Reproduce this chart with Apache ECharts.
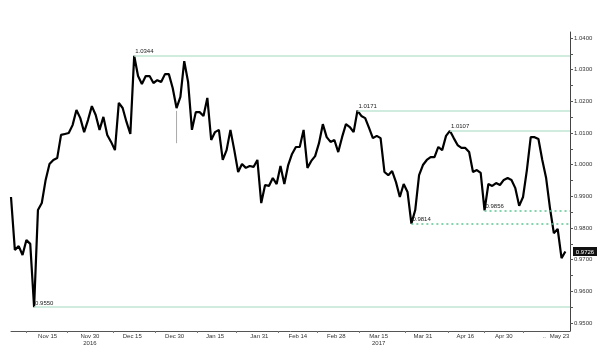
<!DOCTYPE html>
<html lang="en">
  <head>
    <meta charset="UTF-8" />
    <title>USD/CHF</title>
    <script src="https://cdn.jsdelivr.net/npm/echarts@6.0.0/dist/echarts.min.js"></script>
    <style>
      html,
      body {
        margin: 0;
        background: #fff;
      }
      #chart {
        width: 600px;
        height: 354px;
      }
    </style>
  </head>
  <body>
    <div id="chart"></div>
    <script>
      // one value per trading day, Nov 1 2016 -> May 24 2017
      const prices = [
        0.9898, 0.9731, 0.9743, 0.9715, 0.9762, 0.975, 0.955, 0.9857, 0.9879, 0.9952,
        1.0002, 1.0015, 1.0021, 1.0094, 1.0097, 1.01, 1.0125, 1.0173, 1.0147, 1.0103,
        1.0141, 1.0185, 1.0157, 1.011, 1.0151, 1.0094, 1.0072, 1.0046, 1.0195, 1.0179,
        1.0135, 1.0097, 1.0344, 1.028, 1.0255, 1.028, 1.028, 1.0258, 1.0267, 1.0261,
        1.0286, 1.0286, 1.0242, 1.0179, 1.0214, 1.0327, 1.0261, 1.011, 1.0166, 1.0166,
        1.0154, 1.0211, 1.0078, 1.0103, 1.011, 1.0015, 1.0046, 1.011, 1.0046, 0.9977,
        1.0002, 0.999, 0.9996, 0.9993, 1.0015, 0.9879, 0.9936, 0.9933, 0.9958, 0.9939,
        0.9996, 0.9939, 0.9999, 1.0034, 1.0056, 1.0056, 1.011, 0.999, 1.0012, 1.0027,
        1.0068, 1.0128, 1.0087, 1.0072, 1.0078, 1.004, 1.0087, 1.0128, 1.0119, 1.0103,
        1.0171, 1.0154, 1.0147, 1.0116, 1.0084, 1.0091, 1.0084, 0.9977, 0.9967, 0.998,
        0.9945, 0.9898, 0.9939, 0.9914, 0.9814, 0.9857, 0.9967, 0.9999, 1.0015, 1.0024,
        1.0024, 1.0056, 1.0046, 1.0091, 1.0107, 1.0084, 1.0062, 1.0053, 1.0053, 1.004,
        0.9977, 0.9983, 0.9974, 0.9856, 0.9939, 0.9933, 0.9942, 0.9936, 0.9952, 0.9958,
        0.9952, 0.9926, 0.987, 0.9898, 0.9983, 1.0087, 1.0087, 1.0081, 1.0015, 0.9958,
        0.9863, 0.9784, 0.9797, 0.9705, 0.9726,
      ];

      // thin grey wick on Dec 30
      const wickDay = 43;
      const wickRange = [1.017, 1.0068];

      // marked highs / lows: level, day it was set, dotted or not
      const levels = [1.0344, 1.0171, 1.0107, 0.9856, 0.9814, 0.955];
      const levelDays = [32, 90, 114, 123, 104, 6];
      const levelDotted = [false, false, false, true, true, false];

      const dateLabels = [
        "Nov 15", "Nov 30\n2016", "Dec 15", "Dec 30", "Jan 15", "Jan 31", "Feb 14",
        "Feb 28", "Mar 15\n2017", "Mar 31", "Apr 16", "Apr 30", "..", "May 23",
      ];
      const dateLabelDays = [9.5, 20.5, 31.5, 42.5, 53, 64.5, 74.5, 84.5, 95.5, 107, 118, 128, 138.5, 142.5];
      const dateTickDays = [4, 14.5, 26.5, 37.5, 48.5, 58.5, 69.5, 79.5, 90.5, 102.5, 113.5, 123, 133];

      const priceTicks = [0.95, 0.96, 0.97, 0.98, 0.99, 1.0, 1.01, 1.02, 1.03, 1.04];
      const priceMinorTicks = [
        0.95, 0.955, 0.96, 0.965, 0.97, 0.975, 0.98, 0.985, 0.99, 0.995,
        1.0, 1.005, 1.01, 1.015, 1.02, 1.025, 1.03, 1.035, 1.04,
      ];

      const xMax = 145.2;
      const lastDay = prices.length - 1;
      const last = prices[lastDay];

      const labelFont = { fontFamily: "Liberation Sans", fontSize: 6, color: "#333" };

      const levelLines = levels.map((lv, i) => [
        {
          coord: [levelDays[i], lv],
          lineStyle: levelDotted[i]
            ? { type: [2, 3], color: "#5ec594", width: 1.5 }
            : { type: "solid", color: "#bfe6d4", width: 1.6 },
          label: {
            show: true,
            position: "insideStartTop",
            distance: 1,
            formatter: lv.toFixed(4),
            ...labelFont,
            color: "#222",
          },
        },
        { coord: [xMax, lv] },
      ]);

      const chart = echarts.init(document.getElementById("chart"));
      chart.setOption({
        animation: false,
        backgroundColor: "#fff",
        textStyle: { fontFamily: "Liberation Sans" },
        grid: { left: 11, right: 30, top: 32, bottom: 23, outerBoundsMode: "none" },
        xAxis: {
          type: "value",
          min: 0,
          max: xMax,
          splitLine: { show: false },
          axisLine: { onZero: false, lineStyle: { color: "#555", width: 1 } },
          axisTick: {
            length: 2,
            customValues: dateTickDays,
            lineStyle: { color: "#777" },
          },
          axisLabel: {
            customValues: dateLabelDays,
            margin: 2,
            lineHeight: 7,
            ...labelFont,
            formatter: (v) => {
              const i = dateLabelDays.indexOf(v);
              return i >= 0 ? dateLabels[i] : "";
            },
          },
        },
        yAxis: {
          type: "value",
          position: "right",
          min: 0.9475,
          max: 1.0419,
          splitLine: { show: false },
          axisLine: { show: true, onZero: false, lineStyle: { color: "#444", width: 1 } },
          axisTick: {
            show: true,
            length: 3,
            customValues: priceMinorTicks,
            lineStyle: { color: "#555" },
          },
          axisLabel: {
            customValues: priceTicks,
            margin: 4,
            ...labelFont,
            formatter: (v) => v.toFixed(4),
          },
        },
        series: [
          {
            name: "levels",
            type: "line",
            data: [],
            z: 1,
            markLine: {
              silent: true,
              symbol: "none",
              animation: false,
              data: levelLines,
            },
          },
          {
            name: "wick",
            type: "line",
            z: 2,
            showSymbol: false,
            lineStyle: { color: "#aaa", width: 1 },
            data: wickRange.map((v) => [wickDay, v]),
          },
          {
            name: "USD/CHF",
            type: "line",
            z: 3,
            showSymbol: false,
            lineStyle: { color: "#000", width: 2.2 },
            data: prices.map((p, i) => [i, p]),
            markPoint: {
              silent: true,
              animation: false,
              symbol: "rect",
              symbolSize: [24, 9],
              symbolOffset: [15, 0],
              itemStyle: { color: "#111" },
              label: {
                show: true,
                position: "inside",
                offset: [0, 0.5],
                fontFamily: "Liberation Sans",
                fontSize: 6,
                color: "#fff",
                formatter: last.toFixed(4),
              },
              data: [{ coord: [xMax, last] }],
            },
          },
        ],
      });
    </script>
  </body>
</html>
